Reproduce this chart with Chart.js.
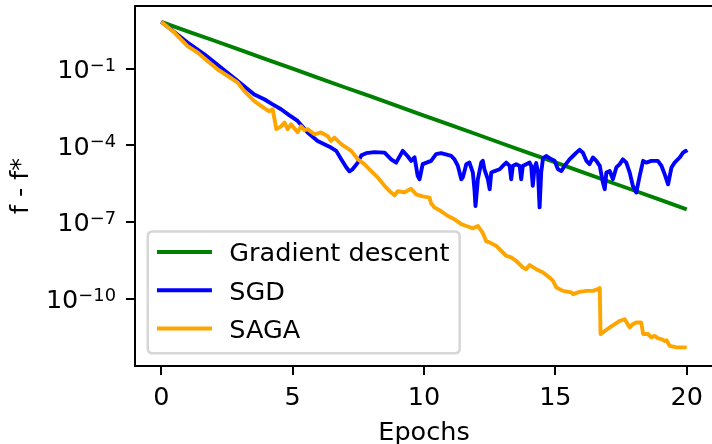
<!DOCTYPE html>
<html>
<head>
<meta charset="utf-8">
<script src="https://cdn.jsdelivr.net/npm/chart.js@4/dist/chart.umd.min.js"></script>
<style>
html,body{margin:0;padding:0;background:#fff;width:712px;height:444px;overflow:hidden}
#wrap{position:relative;width:720px;height:444px}
canvas{display:block}
</style>
</head>
<body>
<div id="wrap"><canvas id="c" width="720" height="444"></canvas></div>
<script>
// ---- data (y given as log10 of f - f*) ----
const seriesLabels = ['Gradient descent', 'SGD', 'SAGA'];
const xTickValues = [0, 5, 10, 15, 20];
const yTickExponents = [-10, -7, -4, -1];

const gdEpochs = [0,1,2,3,4,5,6,7,8,9,10,11,12,13,14,15,16,17,18,19,20];
const gdLog10 = [0.83,0.46,0.10,-0.27,-0.64,-1.00,-1.37,-1.74,-2.10,-2.47,-2.84,-3.20,-3.57,-3.94,-4.31,-4.67,-5.04,-5.41,-5.77,-6.14,-6.51];

const sgdEpochs = [0,1.00,1.64,2.27,2.91,3.54,3.92,4.24,4.56,4.88,
  5.19,5.57,5.95,6.46,6.66,6.85,7.04,7.16,7.28,7.48,
  7.62,7.80,8.11,8.50,8.75,8.94,9.19,9.38,9.51,9.64,
  9.76,9.83,9.95,10.27,10.46,10.65,11.04,11.16,11.29,11.42,
  11.48,11.61,11.73,11.86,11.92,11.96,12.05,12.18,12.24,12.30,
  12.43,12.50,12.56,12.69,12.88,13.00,13.13,13.26,13.32,13.38,
  13.51,13.64,13.70,13.76,13.89,14.02,14.08,14.14,14.21,14.27,
  14.34,14.40,14.46,14.53,14.65,14.85,14.97,15.10,15.23,15.35,
  15.54,15.67,15.80,15.92,16.05,16.18,16.30,16.43,16.56,16.69,
  16.81,16.88,16.94,17.07,17.19,17.32,17.45,17.57,17.70,17.83,
  17.95,18.08,18.21,18.34,18.46,18.65,18.90,19.04,19.16,19.29,
  19.42,19.54,19.73,19.86,19.96,20.00];
const sgdLog10 = [0.83,0.02,-0.44,-0.96,-1.49,-2.01,-2.20,-2.40,-2.59,-2.83,
  -3.05,-3.50,-3.83,-4.09,-4.22,-4.55,-4.86,-5.02,-4.94,-4.68,
  -4.39,-4.31,-4.27,-4.29,-4.55,-4.68,-4.22,-4.43,-4.61,-4.47,
  -5.20,-5.33,-4.74,-4.61,-4.35,-4.31,-4.42,-4.55,-4.81,-5.33,
  -5.25,-4.74,-4.68,-5.07,-5.72,-6.38,-5.33,-4.68,-4.61,-4.94,
  -5.33,-5.72,-5.07,-5.01,-4.94,-4.81,-4.68,-4.81,-5.33,-4.81,
  -4.74,-4.81,-5.33,-4.81,-4.74,-4.68,-4.81,-5.59,-4.86,-4.70,
  -5.07,-6.43,-5.07,-4.51,-4.42,-4.55,-4.61,-4.94,-5.01,-4.81,
  -4.55,-4.42,-4.29,-4.18,-4.29,-4.61,-4.74,-4.48,-4.61,-4.81,
  -5.46,-5.72,-5.07,-5.01,-5.33,-4.87,-4.74,-4.55,-4.68,-5.07,
  -5.59,-5.85,-5.20,-4.61,-4.68,-4.61,-4.61,-4.81,-5.13,-5.53,
  -4.87,-4.68,-4.48,-4.29,-4.22,-4.29];

const sagaEpochs = [0,0.50,1.00,1.38,1.76,2.14,2.53,2.91,3.16,3.54,
  3.92,4.11,4.24,4.38,4.56,4.69,4.81,4.94,5.07,5.19,
  5.32,5.45,5.57,5.83,6.08,6.34,6.46,6.59,6.85,7.23,
  7.48,7.73,8.05,8.24,8.50,8.75,8.88,9.00,9.26,9.51,
  9.70,9.95,10.21,10.27,10.40,10.59,10.91,11.16,11.42,11.61,
  11.86,12.05,12.24,12.37,12.50,12.75,12.88,13.13,13.32,13.51,
  13.76,13.89,14.02,14.27,14.53,14.78,14.91,15.04,15.29,15.61,
  15.67,15.92,16.18,16.43,16.62,16.69,16.72,16.88,17.07,17.26,
  17.45,17.64,17.83,17.95,18.08,18.27,18.34,18.53,18.65,18.78,
  18.91,19.04,19.16,19.23,19.35,19.61,19.86,20.00];
const sagaLog10 = [0.83,0.41,-0.12,-0.37,-0.70,-1.03,-1.29,-1.55,-1.88,-2.27,
  -2.55,-2.67,-2.59,-3.37,-3.26,-3.11,-3.37,-3.18,-3.34,-3.49,
  -3.26,-3.41,-3.37,-3.57,-3.50,-3.65,-3.83,-3.70,-3.96,-4.22,
  -4.55,-4.74,-5.07,-5.26,-5.59,-5.85,-5.96,-5.80,-5.84,-5.70,
  -5.92,-6.00,-6.05,-6.27,-6.44,-6.54,-6.77,-6.90,-7.09,-7.16,
  -7.25,-7.16,-7.44,-7.76,-7.80,-7.94,-8.07,-8.33,-8.39,-8.53,
  -8.78,-8.85,-8.69,-8.85,-8.98,-9.18,-9.31,-9.57,-9.70,-9.76,
  -9.83,-9.74,-9.70,-9.70,-9.63,-9.59,-11.39,-11.27,-11.13,-11.00,
  -10.87,-10.81,-11.13,-11.00,-10.94,-10.94,-11.39,-11.39,-11.52,-11.46,
  -11.56,-11.59,-11.66,-11.63,-11.85,-11.91,-11.91,-11.92];

// ---- build ----
const toPoints = (xs, ls) => xs.map((x, i) => ({ x: x, y: Math.pow(10, ls[i]) }));
const FAMILY = '"DejaVu Sans", sans-serif';
const FONT = { family: FAMILY, size: 25.5, weight: 'normal' };

const frameAndLegend = {
  id: 'frameAndLegend',
  afterDatasetsDraw(chart) {
    const ctx = chart.ctx, a = chart.chartArea;
    ctx.save();
    ctx.strokeStyle = '#000';
    ctx.lineWidth = 2;
    ctx.beginPath();
    ctx.moveTo(a.left - 1, a.top);
    ctx.lineTo(a.right + 1, a.top);
    ctx.moveTo(a.right, a.top);
    ctx.lineTo(a.right, a.bottom);
    ctx.stroke();
    ctx.restore();
  },
  afterDraw(chart) {
    const ctx = chart.ctx, a = chart.chartArea;
    const em = FONT.size;
    // y tick labels in matplotlib mathtext style: 10^{exponent}
    const ys = chart.scales.y;
    ctx.save();
    ctx.fillStyle = '#000';
    ctx.textBaseline = 'alphabetic';
    ctx.textAlign = 'left';
    ys.ticks.forEach(t => {
      const e = Math.round(Math.log10(t.value));
      const py = ys.getPixelForValue(t.value);
      const base = '10';
      const exp = (e < 0 ? '\u2212' : '') + Math.abs(e);
      ctx.font = em + 'px ' + FAMILY;
      const wb = ctx.measureText(base).width;
      ctx.font = (0.7 * em) + 'px ' + FAMILY;
      const we = ctx.measureText(exp).width;
      const right = a.left - 19;
      const x = right - we - wb;
      ctx.font = em + 'px ' + FAMILY;
      ctx.fillText(base, x, py + 9.5);
      ctx.font = (0.7 * em) + 'px ' + FAMILY;
      ctx.fillText(exp, x + wb, py + 9.5 - 7.5);
    });
    ctx.restore();

    // legend (matplotlib style, lower left inside axes)
    const x0 = a.left + 0.5 * em, y1 = a.bottom - 0.5 * em;
    const rowH = 1.5 * em, pad = 0.4 * em;
    const boxH = 2 * pad + 3 * 0.99 * em + 2 * 0.5 * em;
    const y0 = y1 - boxH;
    ctx.save();
    ctx.font = em + 'px ' + FAMILY;
    const ds = chart.data.datasets;
    let maxW = 0;
    ds.forEach(d => { maxW = Math.max(maxW, ctx.measureText(d.label).width); });
    const boxW = pad + 2 * em + 0.8 * em + maxW + pad;
    const r = 0.2 * em;
    ctx.beginPath();
    ctx.moveTo(x0 + r, y0);
    ctx.lineTo(x0 + boxW - r, y0);
    ctx.quadraticCurveTo(x0 + boxW, y0, x0 + boxW, y0 + r);
    ctx.lineTo(x0 + boxW, y0 + boxH - r);
    ctx.quadraticCurveTo(x0 + boxW, y0 + boxH, x0 + boxW - r, y0 + boxH);
    ctx.lineTo(x0 + r, y0 + boxH);
    ctx.quadraticCurveTo(x0, y0 + boxH, x0, y0 + boxH - r);
    ctx.lineTo(x0, y0 + r);
    ctx.quadraticCurveTo(x0, y0, x0 + r, y0);
    ctx.closePath();
    ctx.fillStyle = 'rgba(255,255,255,0.8)';
    ctx.fill();
    ctx.strokeStyle = 'rgba(204,204,204,0.8)';
    ctx.lineWidth = 2.5;
    ctx.stroke();
    ds.forEach((d, i) => {
      const cy = y0 + 0.8 * em + i * rowH;
      ctx.strokeStyle = d.borderColor;
      ctx.lineWidth = d.borderWidth;
      ctx.lineCap = 'butt';
      ctx.beginPath();
      ctx.moveTo(x0 + pad - 1, cy);
      ctx.lineTo(x0 + pad + 2 * em + 3, cy);
      ctx.stroke();
      ctx.fillStyle = '#000';
      ctx.textBaseline = 'alphabetic';
      ctx.textAlign = 'left';
      ctx.fillText(d.label, x0 + pad + 2.8 * em, cy + 0.37 * em);
    });
    ctx.restore();
  }
};

const tickGrid = { display: true, drawOnChartArea: false, drawTicks: true, tickLength: 9, tickWidth: 2, tickColor: '#000', lineWidth: 2, color: '#000' };
const axisBorder = { display: true, color: '#000', width: 2 };
const noPad = s => { s.paddingTop = 0; s.paddingBottom = 0; s.paddingLeft = 0; s.paddingRight = 0; };

new Chart(document.getElementById('c'), {
  type: 'line',
  data: {
    datasets: [
      { label: seriesLabels[0], data: toPoints(gdEpochs, gdLog10), borderColor: '#008000', borderWidth: 3.9, order: 3 },
      { label: seriesLabels[1], data: toPoints(sgdEpochs, sgdLog10), borderColor: '#0000ff', borderWidth: 3.9, order: 2 },
      { label: seriesLabels[2], data: toPoints(sagaEpochs, sagaLog10), borderColor: '#ffa500', borderWidth: 3.9, order: 1 }
    ]
  },
  options: {
    responsive: false,
    animation: false,
    events: [],
    parsing: false,
    elements: { point: { radius: 0 }, line: { tension: 0, borderJoinStyle: 'round', fill: false } },
    layout: { padding: { left: 0, right: 7, top: 6, bottom: 0 } },
    plugins: { legend: { display: false }, tooltip: { enabled: false } },
    scales: {
      x: {
        type: 'linear', min: -1, max: 21,
        afterBuildTicks: s => { s.ticks = xTickValues.map(v => ({ value: v })); },
        afterFit: s => { s.height = 78; noPad(s); },
        ticks: { font: FONT, color: '#000', padding: 8, autoSkip: false, maxRotation: 0 },
        grid: tickGrid, border: axisBorder,
        title: { display: true, text: 'Epochs', font: { family: FAMILY, size: 25.5, lineHeight: 0.8 }, color: '#000', padding: { top: 0, bottom: 0 } }
      },
      y: {
        type: 'logarithmic', min: Math.pow(10, -12.64), max: Math.pow(10, 1.45),
        afterBuildTicks: s => { s.ticks = yTickExponents.map(e => ({ value: Math.pow(10, e) })); },
        afterFit: s => { s.width = 135; noPad(s); },
        ticks: { display: false, font: FONT, color: '#000', autoSkip: false },
        grid: tickGrid, border: axisBorder,
        title: { display: true, text: 'f - f*', font: FONT, color: '#000', padding: { top: 6, bottom: 0 } }
      }
    }
  },
  plugins: [frameAndLegend]
});
</script>
</body>
</html>
